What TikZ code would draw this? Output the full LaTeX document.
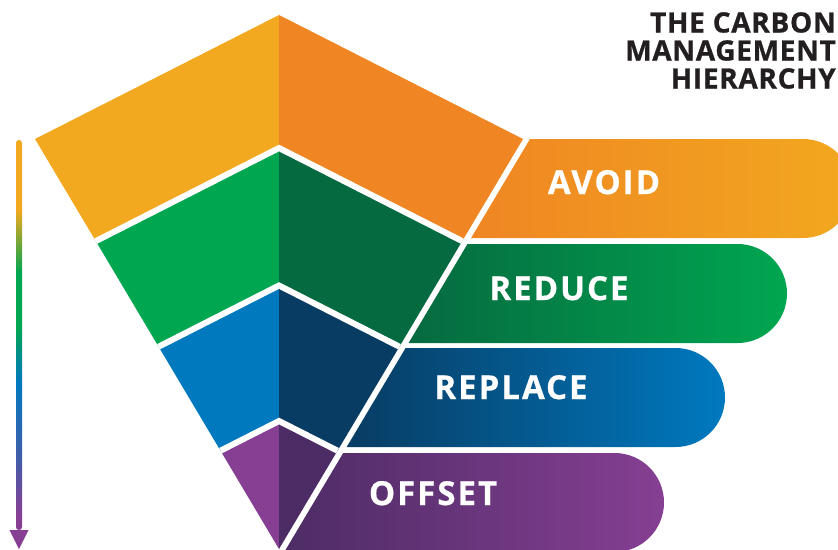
\documentclass[tikz,border=0pt]{standalone}
\usepackage{fontspec}
\setmainfont{Open Sans}
\newfontfamily\barfont{Open Sans}[LetterSpace=6,FakeBold=0.6]
\newfontfamily\headfont{Open Sans}[LetterSpace=2.5,FakeBold=0.8]

\definecolor{avoidlt}{HTML}{F2A81F}
\definecolor{avoiddk}{HTML}{EF8623}
\definecolor{reducelt}{HTML}{00A650}
\definecolor{reducedk}{HTML}{066A40}
\definecolor{replacelt}{HTML}{0079BF}
\definecolor{replacedk}{HTML}{083C63}
\definecolor{offsetlt}{HTML}{863F93}
\definecolor{offsetdk}{HTML}{4D2C65}
\definecolor{titleink}{HTML}{231F20}
\colorlet{fadeblue}{offsetlt!50!replacelt}
\colorlet{fadeolive}{avoidlt!50!reducelt}

% colours of the side arrow, bottom to top
\pgfdeclareverticalshading{arrowfade}{100bp}{color(0bp)=(offsetlt); color(27bp)=(offsetlt);
  color(34bp)=(fadeblue); color(44bp)=(replacelt); color(51bp)=(reducelt);
  color(58bp)=(reducelt); color(62bp)=(fadeolive); color(66bp)=(avoidlt); color(100bp)=(avoidlt)}

\begin{document}
\begin{tikzpicture}[x=1pt,y=-1pt]
  \tikzset{gap/.style={white,line width=6pt},
    barlabel/.style={white,inner sep=0pt,anchor=base,
      font=\fontsize{33}{33}\barfont\bfseries}}
  %\draw[step=50,gray,very thin] (0,0) grid (838,549);
  \useasboundingbox (0,0) rectangle (838,549);
  \clip (0,0) rectangle (838,549);

  % left half of the pyramid
  \fill[avoidlt] (279,15) -- (35,139) -- (95.8,241.1) -- (279,148) -- cycle;
  \fill[reducelt] (279,148) -- (95.8,241.1) -- (158.6,346.7) -- (279,285.5) -- cycle;
  \fill[replacelt] (279,285.5) -- (158.6,346.7) -- (220.5,450.7) -- (279,421) -- cycle;
  \fill[offsetlt] (279,421) -- (220.5,450.7) -- (279,549) -- cycle;

  % right half, darker
  \fill[avoiddk] (279,15) -- (523,139) -- (462.2,241.1) -- (279,148) -- cycle;
  \fill[reducedk] (279,148) -- (462.2,241.1) -- (399.4,346.7) -- (279,285.5) -- cycle;
  \fill[replacedk] (279,285.5) -- (399.4,346.7) -- (337.5,450.7) -- (279,421) -- cycle;
  \fill[offsetdk] (279,421) -- (337.5,450.7) -- (279,549) -- cycle;

  \draw[gap] (95.8,241.1) -- (279,148) -- (462.2,241.1);
  \draw[gap] (158.6,346.7) -- (279,285.5) -- (399.4,346.7);
  \draw[gap] (220.5,450.7) -- (279,421) -- (337.5,450.7);

  % bars
  \shade[left color=avoiddk,right color=avoidlt] (530,139) -- (803,139)
    arc[start angle=-90,end angle=90,radius=49.5] -- (471.1,238) -- cycle;
  \shade[left color=reducedk,right color=reducelt] (467.5,244) -- (737.5,244)
    arc[start angle=-90,end angle=90,radius=49.5] -- (408.6,343) -- cycle;
  \shade[left color=replacedk,right color=replacelt] (405.6,348) -- (675.5,348)
    arc[start angle=-90,end angle=90,radius=49.5] -- (346.7,447) -- cycle;
  \shade[left color=offsetdk,right color=offsetlt] (343.2,453) -- (614.5,453)
    arc[start angle=-90,end angle=90,radius=49.5] -- (284.3,552) -- cycle;

  \node[barlabel] (avoid) at (604,194) {AVOID};
  \node[barlabel] (reduce) at (559,300) {REDUCE};
  \node[barlabel] (replace) at (511,399) {REPLACE};
  \node[barlabel] (offset) at (433,505) {OFFSET};

  \node[anchor=north east,align=right,inner sep=0pt,text=titleink,
    font=\fontsize{28}{28}\headfont\bfseries] (title) at (836,12)
    {THE CARBON\\MANAGEMENT\\HIERARCHY};

  % arrow down the side
  \coordinate (arrtop) at (19,140);
  \coordinate (arrtip) at (19,549);
  \shade[shading=arrowfade,rounded corners=2.9pt] ([xshift=-3pt]arrtop) rectangle ([xshift=3pt,yshift=19pt]arrtip);
  \fill[offsetlt] ([xshift=-9.5pt,yshift=19pt]arrtip) -- ([xshift=9.5pt,yshift=19pt]arrtip) -- (arrtip) -- cycle;
\end{tikzpicture}
\end{document}
